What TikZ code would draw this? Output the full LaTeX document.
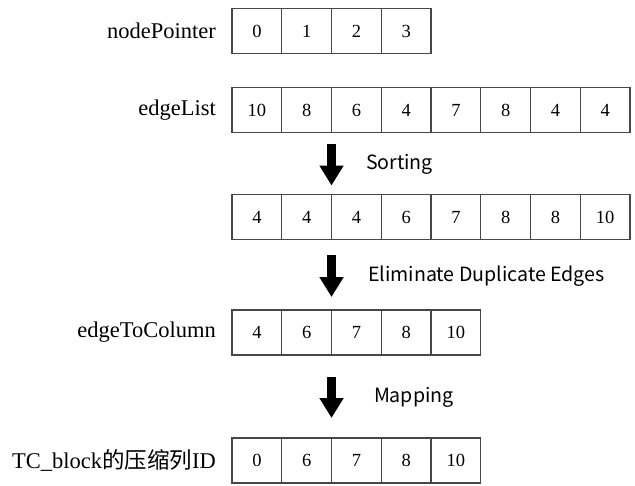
\documentclass[tikz,border=0pt]{standalone}
\usepackage{fontspec}
\setmainfont{Liberation Serif}
\newfontfamily\cjk{Noto Sans CJK SC}
\usetikzlibrary{positioning,arrows.meta}

\tikzset{
    cell/.style={draw=black!72, line width=1.1pt, minimum width=49.75pt, minimum height=45pt,
        inner sep=0pt, outer sep=0pt, font=\fontsize{18.5}{20}\selectfont},
    rowlabel/.style={inner sep=0pt, font=\fontsize{22.5}{25}\selectfont},
    steplabel/.style={inner sep=0pt, font=\cjk\fontsize{19.6}{22}\selectfont},
    bigarrow/.style={line width=9pt, -{Triangle[width=23pt,length=20pt]}}
}

\begin{document}
\begin{tikzpicture}[x=1pt, y=-1pt]
        \useasboundingbox (0,0) rectangle (635,485);

        \foreach \v [count=\i] in {0,1,2,3}
            \node[cell] (p\i) at ({256.9+49.75*(\i-1)}, 31) {\v};
        \foreach \v [count=\i] in {10,8,6,4,7,8,4,4}
            \node[cell] (e\i) at ({256.9+49.75*(\i-1)}, 110) {\v};
        \foreach \v [count=\i] in {4,4,4,6,7,8,8,10}
            \node[cell] (s\i) at ({256.9+49.75*(\i-1)}, 217) {\v};
        \foreach \v [count=\i] in {4,6,7,8,10}
            \node[cell] (c\i) at ({256.9+49.75*(\i-1)}, 332.5) {\v};
        \foreach \v [count=\i] in {0,6,7,8,10}
            \node[cell] (t\i) at ({256.9+49.75*(\i-1)}, 460.5) {\v};

        \node[rowlabel, left=16pt of p1] (lp) {nodePointer};
        \node[rowlabel, left=16pt of e1] (le) {edgeList};
        \node[rowlabel, left=16pt of c1] (lc) {edgeToColumn};
        \node[rowlabel, left=16pt of t1] (lt) {TC\_block{\cjk 的压缩列}ID};

        \draw[bigarrow] ([yshift=-11pt]e2.south east) -- ([yshift=9pt]s2.north east)
            node[steplabel, midway, right=30pt] (sort) {Sorting};
        \draw[bigarrow] ([yshift=-15pt]s2.south east) -- ([yshift=13pt]c2.north east)
            node[steplabel, midway, right=32pt] (dedup) {Eliminate Duplicate Edges};
        \draw[bigarrow] ([yshift=-22pt]c2.south east) -- ([yshift=20pt]t2.north east)
            node[steplabel, midway, right=38pt] (map) {Mapping};
    \end{tikzpicture}
\end{document}
